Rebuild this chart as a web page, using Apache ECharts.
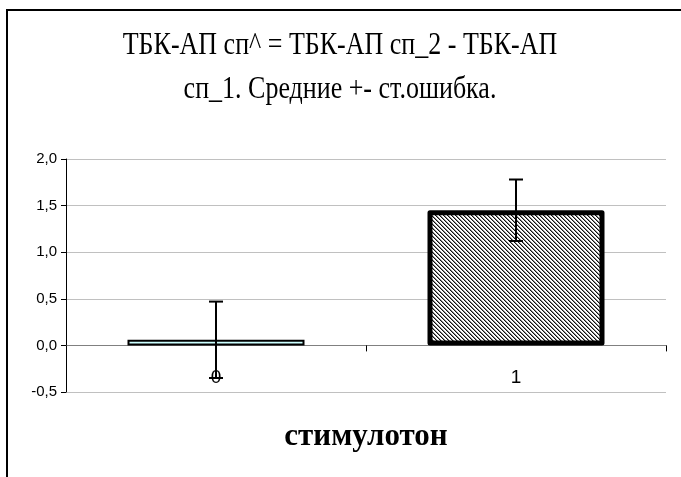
<!DOCTYPE html>
<html>
<head>
<meta charset="utf-8">
<script src="https://cdn.jsdelivr.net/npm/echarts@6/dist/echarts.min.js"></script>
<style>
  html, body { margin: 0; padding: 0; background: #fff; }
  #chart { width: 681px; height: 477px; }
</style>
</head>
<body>
<div id="chart"></div>
<script>
// Group means and standard errors
const categories = ['0', '1'];
const means = [0.06, 1.45];
const stdErrors = [0.41, 0.33];
const yTicks = { min: -0.5, max: 2.0, step: 0.5 };

const titleLines = ['ТБК-АП сп^ = ТБК-АП сп_2 - ТБК-АП', 'сп_1. Средние +- ст.ошибка.'];
const xAxisTitle = 'стимулотон';

// Diagonal hatch tile for the second bar
function hatchTile() {
  const c = document.createElement('canvas');
  c.width = 4; c.height = 4;
  const ctx = c.getContext('2d');
  ctx.fillStyle = '#ffffff';
  ctx.fillRect(0, 0, 4, 4);
  for (let i = 0; i < 4; i++) {
    ctx.fillStyle = '#111111';
    ctx.fillRect(i, i, 1, 1);
    ctx.fillStyle = '#8a8a8a';
    ctx.fillRect((i + 1) % 4, i, 1, 1);
  }
  return c;
}

const barStyles = [
  { color: '#ccffff', borderColor: '#000', borderWidth: 2 },
  { color: { image: hatchTile(), repeat: 'repeat' }, borderColor: '#000', borderWidth: 5, borderJoin: 'round' }
];

const titleFont = {
  fontFamily: 'Liberation Serif',
  fontSize: 26,
  fill: '#000',
  textAlign: 'center',
  textVerticalAlign: 'middle'
};

const chart = echarts.init(document.getElementById('chart'), null, { renderer: 'canvas' });

chart.setOption({
  animation: false,
  backgroundColor: '#fff',
  graphic: [
    {
      type: 'rect',
      shape: { x: 7, y: 10, width: 700, height: 500 },
      style: { fill: 'none', stroke: '#000', lineWidth: 2 },
      silent: true,
      z: 100
    },
    {
      type: 'text', x: 340, y: 45, scaleY: 1.25,
      style: Object.assign({ text: titleLines[0] }, titleFont), silent: true
    },
    {
      type: 'text', x: 340, y: 89, scaleY: 1.25,
      style: Object.assign({ text: titleLines[1] }, titleFont), silent: true
    }
  ],
  grid: { left: 66, right: 15, top: 159, bottom: 85, containLabel: false, outerBoundsMode: 'none' },
  xAxis: {
    type: 'category',
    data: categories,
    axisLine: { onZero: true, lineStyle: { color: '#808080', width: 1 } },
    axisTick: { show: true, length: 6, lineStyle: { color: '#000' } },
    axisLabel: {
      margin: -24,
      fontFamily: 'Liberation Sans',
      fontSize: 19,
      color: '#000'
    },
    name: xAxisTitle,
    nameLocation: 'middle',
    nameGap: 29,
    nameTextStyle: {
      fontFamily: 'Liberation Serif',
      fontWeight: 'bold',
      fontSize: 31,
      color: '#000'
    }
  },
  yAxis: {
    type: 'value',
    min: yTicks.min,
    max: yTicks.max,
    interval: yTicks.step,
    axisLine: { show: true, lineStyle: { color: '#000', width: 1 } },
    axisTick: { show: true, length: 5, lineStyle: { color: '#000' } },
    axisLabel: {
      margin: 9,
      fontFamily: 'Liberation Sans',
      fontSize: 15,
      color: '#000',
      formatter: v => v.toFixed(1).replace('.', ',')
    },
    splitLine: { show: true, lineStyle: { color: '#c0c0c0', width: 1 } }
  },
  series: [
    {
      type: 'bar',
      barWidth: '59%',
      data: means.map((v, i) => ({ value: v, itemStyle: barStyles[i] })),
      z: 2
    },
    {
      type: 'custom',
      z: 5,
      data: means.map((m, i) => [i, m - stdErrors[i], m + stdErrors[i]]),
      renderItem: function (params, api) {
        const x = api.value(0);
        const lo = api.coord([x, api.value(1)]);
        const hi = api.coord([x, api.value(2)]);
        const half = 7;
        const style = { stroke: '#000', lineWidth: 2 };
        return {
          type: 'group',
          children: [
            { type: 'line', shape: { x1: hi[0], y1: hi[1], x2: lo[0], y2: lo[1] }, style: style },
            { type: 'line', shape: { x1: hi[0] - half, y1: hi[1], x2: hi[0] + half, y2: hi[1] }, style: style },
            { type: 'line', shape: { x1: lo[0] - half, y1: lo[1], x2: lo[0] + half, y2: lo[1] }, style: style }
          ]
        };
      }
    }
  ]
});
</script>
</body>
</html>
